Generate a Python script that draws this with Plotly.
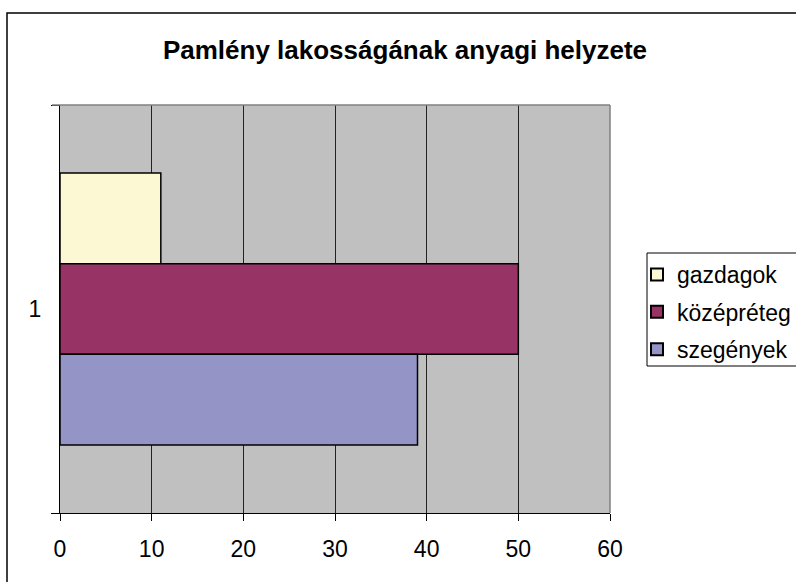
import plotly.graph_objects as go

W, H = 796, 582

# Data
categories = ["1"]
series_names = ["gazdagok", "középréteg", "szegények"]
series_values = [[11], [50], [39]]
series_colors = ["#FBF8D3", "#983366", "#9494C7"]
x_ticks = [0, 10, 20, 30, 40, 50, 60]

FONT = "Arial, 'Liberation Sans', sans-serif"


def px_x(p):
    return p / W


def px_y(p):
    return 1 - p / H


fig = go.Figure()
for name, vals, col in zip(series_names, series_values, series_colors):
    fig.add_trace(go.Bar(
        y=categories, x=vals, name=name, orientation="h",
        legendgroup=name,
        marker=dict(color=col, line=dict(color="#000000", width=1.5)),
    ))

plot_l, plot_r, plot_t, plot_b = 60, 610, 105, 513

fig.update_layout(
    width=W, height=H,
    margin=dict(l=0, r=0, t=0, b=0, autoexpand=False),
    paper_bgcolor="white",
    plot_bgcolor="#C0C0C0",
    barmode="group",
    bargap=1 / 3,
    bargroupgap=0,
    showlegend=True,
    title=dict(
        text="<b>Pamlény lakosságának anyagi helyzete</b>",
        x=px_x(405), y=px_y(50), xanchor="center", yanchor="middle",
        xref="paper", yref="paper",
        font=dict(family=FONT, size=26, color="#000000"),
    ),
    legend=dict(
        x=px_x(637), y=px_y(253), xanchor="left", yanchor="top",
        traceorder="grouped",
        font=dict(family=FONT, size=23, color="#000000"),
        bgcolor="rgba(0,0,0,0)", borderwidth=0,
        itemsizing="constant", tracegroupgap=4.5,
    ),
    xaxis=dict(
        domain=[px_x(plot_l), px_x(plot_r)],
        range=[0, 60], tickvals=x_ticks,
        showgrid=True, gridcolor="#222222", gridwidth=1,
        zeroline=False, automargin=False,
        showline=True, linecolor="#000000", linewidth=1,
        ticks="outside", ticklen=7, tickcolor="#000000",
        ticklabelstandoff=8,
        tickfont=dict(family=FONT, size=23, color="#000000"),
        fixedrange=True,
    ),
    yaxis=dict(
        domain=[px_y(plot_b), px_y(plot_t)],
        type="category", autorange="reversed",
        showgrid=False, zeroline=False, automargin=False,
        showline=True, linecolor="#000000", linewidth=1,
        ticks="outside", ticklen=8, tickcolor="#000000",
        tickson="boundaries",
        ticklabelstandoff=13,
        tickfont=dict(family=FONT, size=23, color="#000000"),
        fixedrange=True,
    ),
    shapes=[
        # chart frame
        dict(type="rect", xref="paper", yref="paper",
             x0=px_x(7), x1=px_x(W + 20), y0=px_y(13), y1=px_y(H + 20),
             line=dict(color="#000000", width=1.5), fillcolor="rgba(0,0,0,0)",
             layer="below"),
        # plot area top and right edges
        dict(type="line", xref="paper", yref="paper",
             x0=px_x(plot_l - 8), x1=px_x(plot_r), y0=px_y(plot_t), y1=px_y(plot_t),
             line=dict(color="#808080", width=1.5), layer="above"),
        dict(type="line", xref="paper", yref="paper",
             x0=px_x(plot_r), x1=px_x(plot_r), y0=px_y(plot_t), y1=px_y(plot_b),
             line=dict(color="#808080", width=1.5), layer="above"),
        # legend frame
        dict(type="rect", xref="paper", yref="paper",
             x0=px_x(647), x1=px_x(W + 20), y0=px_y(253), y1=px_y(366),
             line=dict(color="#000000", width=1), fillcolor="rgba(0,0,0,0)",
             layer="below"),
    ],
)

fig.write_html("out.html")
